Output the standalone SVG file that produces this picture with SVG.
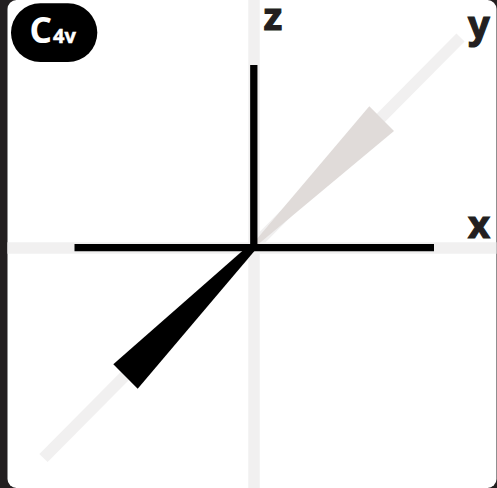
<svg xmlns="http://www.w3.org/2000/svg" width="497" height="488" viewBox="0 0 497 488">
<style>
.axis{fill:none;stroke:#f1f0f0;stroke-width:11.5}
.bar{fill:none;stroke:#000;stroke-width:7.3}
.lab{font-family:"Noto Sans","Open Sans",sans-serif;font-weight:700;fill:#231f20;font-size:38px;stroke:#231f20;stroke-width:1.2}
.badge{font-family:"Noto Sans","Open Sans",sans-serif;font-weight:700;fill:#fff}
.sub{font-size:20px;stroke:#fff;stroke-width:.5}
</style>
<rect width="497" height="488" fill="#231f20"/>
<rect x="7.5" y="0" width="489" height="488" rx="9" fill="#fff"/>
<g id="connectors">
<path class="axis" d="M254 0V488"/>
<path class="axis" d="M7.5 248H496.500"/>
<path class="axis" d="M43.500 458L460.500 37.500"/>
</g>
<g id="wedge-y"><polygon points="369.3,106.3 394,131 256.7,245.500 256,240" fill="#e0dbd9"/></g>
<g id="wedge-y-minus"><polygon points="113.3,364.3 137.7,388.7 257,248 248,246" fill="#000"/></g>
<g id="axis-z-bar"><path class="bar" d="M253.8 65V251"/></g>
<g id="axis-x-bar"><path class="bar" d="M74.5 247.6H434"/></g>
<g id="label-z"><text class="lab" x="263.500" y="29.500">z</text></g>
<g id="label-y"><text class="lab" x="468" y="38">y</text></g>
<g id="label-x"><text class="lab" x="468" y="238">x</text></g>
<g id="badge">
<rect x="11" y="3.300" width="86.300" height="58.700" rx="29.300" fill="#000"/>
<text class="badge" x="29.500" y="43" font-size="35">C<tspan class="sub" dx="1">4v</tspan></text>
</g>
</svg>
